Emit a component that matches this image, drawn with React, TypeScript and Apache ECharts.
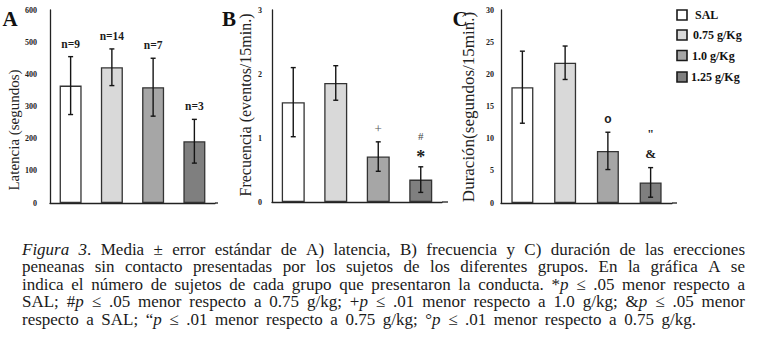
import React, { useEffect, useRef } from "react";
import * as echarts from "echarts";

// ---------- data ----------
const groups = ["SAL", "0.75 g/Kg", "1.0 g/Kg", "1.25 g/Kg"];
const barColors = ["#ffffff", "#d9d9d9", "#a6a6a6", "#7f7f7f"];

const latMean = [365, 422, 360, 192];
const latErr = [90, 57, 90, 68];
const latNear = ["n=9", "n=14", "n=7", "n=3"];
const latFar = ["", "", "", ""];

const freqMean = [1.56, 1.86, 0.71, 0.35];
const freqErr = [0.54, 0.27, 0.23, 0.2];
const freqNear = ["", "", "+", "*"];
const freqFar = ["", "", "", "#"];

const durMean = [18.0, 21.8, 8.1, 3.2];
const durErr = [5.6, 2.6, 2.9, 2.3];
const durNear = ["", "", "o", "&"];
const durFar = ["", "", "", "\""];

const latTicks = { min: 0, max: 600, interval: 100 };
const freqTicks = { min: 0, max: 3, interval: 1 };
const durTicks = { min: 0, max: 30, interval: 5 };

const axisNames = ["Latencia (segundos)", "Frecuencia (eventos/15min.)", "Duración(segundos/15min.)"];
const panelLetters = ["A", "B", "C"];

const captionLines = [
  "_Figura 3_. Media ± error estándar de A) latencia, B) frecuencia y C) duración de las erecciones",
  "peneanas sin contacto presentadas por los sujetos de los diferentes grupos. En la gráfica A se",
  "indica el número de sujetos de cada grupo que presentaron la conducta. *_p_ ≤ .05 menor respecto a",
  "SAL; #_p_ ≤ .05 menor respecto a 0.75 g/kg; +_p_  ≤ .01 menor respecto a 1.0 g/kg; &_p_ ≤ .05 menor",
  "respecto a SAL; “_p_ ≤ .01 menor respecto a 0.75 g/kg; °_p_ ≤ .01 menor respecto a 0.75 g/kg.",
];

// ---------- styles ----------
const SERIF = '"Liberation Serif", "Times New Roman", serif';
const INK = "#1c1c1c";

function markStyle(m: string): any {
  if (m.startsWith("n=")) return { fontWeight: "bold", fontSize: 11.5, fontFamily: SERIF, fill: INK };
  switch (m) {
    case "+":
      return { fontWeight: "normal", fontSize: 13, fontFamily: SERIF, fill: "#555" };
    case "#":
      return { fontWeight: "normal", fontSize: 11, fontFamily: SERIF, fill: "#444" };
    case "*":
      return { fontWeight: "bold", fontSize: 18, fontFamily: SERIF, fill: INK };
    case "o":
      return { fontWeight: "bold", fontSize: 12, fontFamily: '"Liberation Sans", Arial, sans-serif', fill: INK };
    case "&":
      return { fontWeight: "bold", fontSize: 13, fontFamily: SERIF, fill: INK };
    default:
      return { fontWeight: "bold", fontSize: 12, fontFamily: SERIF, fill: INK };
  }
}

function nearOffset(m: string) {
  if (m === "*") return 10;
  if (m === "&") return 14;
  return 13;
}
function farOffset(m: string) {
  return m === "#" ? 31 : 34;
}

function errorSeries(idx: number, mean: number[], err: number[], near: string[], far: string[]) {
  return {
    type: "custom",
    xAxisIndex: idx,
    yAxisIndex: idx,
    z: 10,
    silent: true,
    clip: false,
    data: mean.map((m, i) => [i, m, err[i]]),
    renderItem: (params: any, api: any) => {
      const i = api.value(0);
      const m = api.value(1);
      const e = api.value(2);
      const top = api.coord([i, m + e]);
      const bot = api.coord([i, m - e]);
      const hw = 2.5;
      const ls = { stroke: "#151515", lineWidth: 1.4 };
      const children: any[] = [
        { type: "line", shape: { x1: top[0], y1: top[1], x2: bot[0], y2: bot[1] }, style: ls },
        { type: "line", shape: { x1: top[0] - hw, y1: top[1], x2: top[0] + hw, y2: top[1] }, style: ls },
        { type: "line", shape: { x1: bot[0] - hw, y1: bot[1], x2: bot[0] + hw, y2: bot[1] }, style: ls },
      ];
      const n = near[i];
      if (n) {
        children.push({
          type: "text",
          x: top[0],
          y: top[1] - nearOffset(n),
          style: { text: n, align: "center", verticalAlign: "middle", ...markStyle(n) },
        });
      }
      const f = far[i];
      if (f) {
        children.push({
          type: "text",
          x: top[0],
          y: top[1] - farOffset(f),
          style: { text: f, align: "center", verticalAlign: "middle", ...markStyle(f) },
        });
      }
      return { type: "group", children };
    },
  };
}

function barSeries(idx: number, mean: number[], width: number) {
  return {
    type: "bar",
    xAxisIndex: idx,
    yAxisIndex: idx,
    barWidth: width,
    silent: true,
    data: mean.map((v, i) => ({ value: v, itemStyle: { color: barColors[i] } })),
    itemStyle: { borderColor: "#333", borderWidth: 1.3 },
  };
}

// caption layout helpers
type Seg = { t: string; it: boolean };
function parseLine(line: string): Seg[][] {
  const words: Seg[][] = [];
  let italic = false;
  let cur: Seg[] = [];
  let buf = "";
  const flush = () => {
    if (buf) cur.push({ t: buf, it: italic });
    buf = "";
  };
  for (const ch of line) {
    if (ch === "_") {
      flush();
      italic = !italic;
    } else if (ch === " ") {
      flush();
      if (cur.length) words.push(cur);
      cur = [];
    } else buf += ch;
  }
  flush();
  if (cur.length) words.push(cur);
  return words;
}

export default function App() {
  const ref = useRef<HTMLDivElement>(null);
  useEffect(() => {
    document.body.style.margin = "0";
    const chart = echarts.init(ref.current!, null, { renderer: "svg" });

    const grids = [
      { left: 50, top: 10, width: 165, height: 193 },
      { left: 272, top: 10, width: 170, height: 192 },
      { left: 501, top: 10, width: 171, height: 193 },
    ];
    const axisEnds = [218, 448, 677];
    const labelMargins = [13, 10, 7];
    const ticks = [latTicks, freqTicks, durTicks];

    const xAxes = grids.map((_, i) => ({
      type: "category",
      gridIndex: i,
      data: groups,
      axisLine: { show: true, lineStyle: { color: "#222", width: 1.3 } },
      axisTick: { show: false },
      axisLabel: { show: false },
    }));
    const yAxes = grids.map((_, i) => ({
      type: "value",
      gridIndex: i,
      min: ticks[i].min,
      max: ticks[i].max,
      interval: ticks[i].interval,
      axisLine: { show: true, lineStyle: { color: "#222", width: 1.3 } },
      axisTick: { show: false },
      splitLine: { show: false },
      axisLabel: {
        fontFamily: SERIF,
        fontWeight: "bold",
        fontSize: 8,
        color: "#222",
        margin: labelMargins[i],
      },
    }));

    const graphics: any[] = [];
    // extend x axis lines
    grids.forEach((g, i) => {
      graphics.push({
        type: "line",
        silent: true,
        shape: { x1: g.left + g.width, y1: g.top + g.height, x2: axisEnds[i], y2: g.top + g.height },
        style: { stroke: "#222", lineWidth: 1.3 },
      });
    });
    // panel letters
    const letterPos = [
      [10, 19],
      [229, 19],
      [460, 19],
    ];
    panelLetters.forEach((L, i) => {
      graphics.push({
        type: "text",
        x: letterPos[i][0],
        y: letterPos[i][1],
        style: {
          text: L,
          align: "center",
          verticalAlign: "middle",
          fontFamily: SERIF,
          fontWeight: "bold",
          fontSize: 21,
          fill: "#111",
        },
      });
    });
    // axis names
    const namePos = [
      [14, 130, 15],
      [245, 105, 16],
      [468, 107, 17],
    ];
    axisNames.forEach((nm, i) => {
      graphics.push({
        type: "text",
        x: namePos[i][0],
        y: namePos[i][1],
        rotation: Math.PI / 2,
        style: {
          text: nm,
          align: "center",
          verticalAlign: "middle",
          fontFamily: SERIF,
          fontSize: namePos[i][2],
          fill: "#222",
        },
      });
    });
    // legend
    const legendY = [15, 35, 55.5, 77];
    const legendTX = [695, 693, 692, 691];
    groups.forEach((gname, i) => {
      graphics.push({
        type: "rect",
        shape: { x: 677, y: legendY[i] - 5, width: 10, height: 10 },
        style: { fill: barColors[i], stroke: "#1a1a1a", lineWidth: 1.6 },
      });
      graphics.push({
        type: "text",
        x: legendTX[i],
        y: legendY[i],
        style: {
          text: gname,
          align: "left",
          verticalAlign: "middle",
          fontFamily: SERIF,
          fontWeight: "bold",
          fontSize: 12,
          fill: "#111",
        },
      });
    });

    // caption
    const canvas = document.createElement("canvas");
    const ctx = canvas.getContext("2d")!;
    const fam = '"Liberation Serif"';
    const measure = (t: string, size: number, it: boolean) => {
      ctx.font = `${it ? "italic " : ""}${size}px ${fam}`;
      return ctx.measureText(t).width;
    };
    const parsed = captionLines.map(parseLine);
    const natural = (words: Seg[][], size: number) => {
      let total = 0;
      words.forEach((w) => w.forEach((s) => (total += measure(s.t, size, s.it))));
      return total + measure(" ", size, false) * (words.length - 1);
    };
    const capLeft = 22;
    const capRight = 745;
    const capW = capRight - capLeft;
    const lastLineW = 674;
    let maxNat = 0;
    parsed.forEach((w) => (maxNat = Math.max(maxNat, natural(w, 10))));
    let fs = (10 * (capW - 4)) / maxNat;
    fs = Math.min(17, Math.max(13, fs));
    const lineY = [249, 266.5, 284, 301.5, 319];
    parsed.forEach((words, li) => {
      const wordW = words.map((w) => w.reduce((a, s) => a + measure(s.t, fs, s.it), 0));
      const sumW = wordW.reduce((a, b) => a + b, 0);
      const target = li < parsed.length - 1 ? capW : lastLineW;
      const gap = Math.max(measure(" ", fs, false) * 0.8, (target - sumW) / (words.length - 1));
      let x = capLeft;
      words.forEach((w, wi) => {
        let sx = x;
        w.forEach((s) => {
          graphics.push({
            type: "text",
            x: sx,
            y: lineY[li],
            silent: true,
            style: {
              text: s.t,
              align: "left",
              verticalAlign: "middle",
              fontFamily: SERIF,
              fontStyle: s.it ? "italic" : "normal",
              fontSize: fs,
              lineHeight: 15,
              fill: "#1a1a1a",
            },
          });
          sx += measure(s.t, fs, s.it);
        });
        x += wordW[wi] + gap;
      });
    });

    chart.setOption({
      animation: false,
      backgroundColor: "#ffffff",
      grid: grids.map((g) => ({ ...g, containLabel: false })),
      xAxis: xAxes,
      yAxis: yAxes,
      series: [
        barSeries(0, latMean, 22),
        errorSeries(0, latMean, latErr, latNear, latFar),
        barSeries(1, freqMean, 23),
        errorSeries(1, freqMean, freqErr, freqNear, freqFar),
        barSeries(2, durMean, 22),
        errorSeries(2, durMean, durErr, durNear, durFar),
      ],
      graphic: graphics,
    });
    return () => chart.dispose();
  }, []);
  return <div ref={ref} style={{ width: 769, height: 356 }} />;
}
